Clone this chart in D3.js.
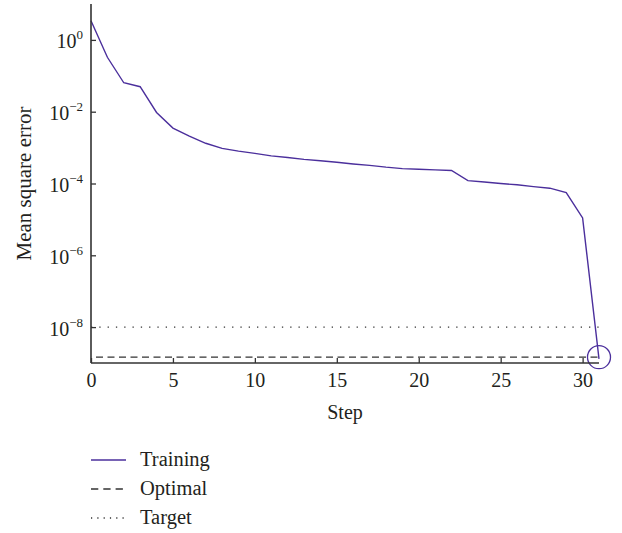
<!DOCTYPE html>
<html>
<head>
<meta charset="utf-8">
<script src="https://cdn.jsdelivr.net/npm/d3@7"></script>
<style>
  body { margin: 0; background: #fff; }
  svg text { font-family: "Liberation Serif", "DejaVu Serif", serif; fill: #231f20; }
</style>
</head>
<body>
<svg id="chart" width="622" height="533"></svg>
<script>
// Training MSE per step
const steps = d3.range(0, 32);
const training = [3.42, 0.328, 0.064, 0.0497, 0.0095, 0.0035, 0.0021, 0.00132, 0.00095, 0.0008,
  0.00069, 0.00059, 0.00053, 0.00047, 0.00043, 0.00039, 0.00035, 0.00032, 0.000285, 0.00026,
  0.00025, 0.00024, 0.00023, 0.00012, 0.00011, 0.0001, 0.000092, 0.000082, 0.000074, 0.000056,
  0.000011, 1.3e-9];
const optimal = 1.45e-9;   // best value reached
const target = 1e-8;       // goal
const optimalStep = 31;
const yTicks = [1e0, 1e-2, 1e-4, 1e-6, 1e-8];
const xTicks = [0, 5, 10, 15, 20, 25, 30];
const legendItems = ['Training', 'Optimal', 'Target'];

const purple = '#4b2f9c';
const axisColor = '#333';
const fontSize = 20;

const svg = d3.select('#chart');
const m = {left: 91, right: 599, top: 4, bottom: 363};

const x = d3.scaleLinear().domain([0, 31]).range([m.left, m.right]);
const y = d3.scaleLog().domain([1e-9, 1e1]).range([m.bottom, m.top]);

// reference lines
svg.append('line')
    .attr('x1', x(0)).attr('x2', x(31))
    .attr('y1', y(target)).attr('y2', y(target))
    .attr('stroke', '#333').attr('stroke-width', 1.3)
    .attr('stroke-dasharray', '1.3,7');

svg.append('line')
    .attr('x1', x(0) + 5).attr('x2', x(31))
    .attr('y1', y(optimal)).attr('y2', y(optimal))
    .attr('stroke', '#333').attr('stroke-width', 1.3)
    .attr('stroke-dasharray', '7,4.5');

// training curve
const line = d3.line()
    .x((d, i) => x(steps[i]))
    .y(d => y(d));

svg.append('path')
    .datum(training)
    .attr('fill', 'none')
    .attr('stroke', purple)
    .attr('stroke-width', 1.4)
    .attr('d', line);

svg.append('circle')
    .attr('cx', x(optimalStep)).attr('cy', y(optimal))
    .attr('r', 11.5)
    .attr('fill', 'none')
    .attr('stroke', purple)
    .attr('stroke-width', 1.3);

// axes (ticks point into the plot)
const xAxis = d3.axisBottom(x).tickValues(xTicks).tickSize(-5).tickPadding(0);
const gx = svg.append('g').attr('transform', `translate(0,${m.bottom})`).call(xAxis);
gx.select('.domain').attr('d', `M${m.left},0H${m.right}`);
gx.selectAll('.tick text').attr('y', 24).attr('dy', 0);

const yAxis = d3.axisLeft(y).tickValues(yTicks).tickSize(-5).tickFormat('');
const gy = svg.append('g').attr('transform', `translate(${m.left},0)`).call(yAxis);
gy.select('.domain').attr('d', `M0,${m.top}V${m.bottom}`);

[gx, gy].forEach(g => {
  g.attr('font-family', null).attr('font-size', null);
  g.select('.domain').attr('stroke', axisColor).attr('stroke-width', 1.6);
  g.selectAll('.tick line').attr('stroke', axisColor).attr('stroke-width', 1.3);
  g.selectAll('.tick text').style('font-size', fontSize + 'px').attr('fill', '#231f20');
});

// y tick labels as 10^n
gy.selectAll('.tick').each(function (d) {
  const p = Math.round(Math.log10(d));
  const t = d3.select(this).select('text').attr('x', -8).attr('dy', null).attr('y', 8);
  t.append('tspan').text('10');
  t.append('tspan').attr('dy', -9).style('font-size', '13px')
    .text(p === 0 ? '0' : '\u2212' + Math.abs(p));
});

// axis titles
svg.append('text')
    .attr('x', (m.left + m.right) / 2).attr('y', 419)
    .attr('text-anchor', 'middle').style('font-size', fontSize + 'px')
    .text('Step');

svg.append('text')
    .attr('transform', `translate(31,${(m.top + m.bottom) / 2}) rotate(-90)`)
    .attr('text-anchor', 'middle').style('font-size', (fontSize + 1) + 'px')
    .text('Mean square error');

// legend
const leg = svg.append('g').attr('transform', 'translate(91,460)');
const styles = [
  {stroke: purple, dash: null},
  {stroke: '#333', dash: '7.3,5'},
  {stroke: '#333', dash: '1.2,5.1'}
];
legendItems.forEach((name, i) => {
  const g = leg.append('g').attr('transform', `translate(0,${i * 29})`);
  g.append('line')
      .attr('x1', 0).attr('x2', 35).attr('y1', 0).attr('y2', 0)
      .attr('stroke', styles[i].stroke).attr('stroke-width', 1.3)
      .attr('stroke-dasharray', styles[i].dash);
  g.append('text').attr('x', 49).attr('y', 6).style('font-size', (fontSize + 0.5) + 'px').text(name);
});
</script>
</body>
</html>
